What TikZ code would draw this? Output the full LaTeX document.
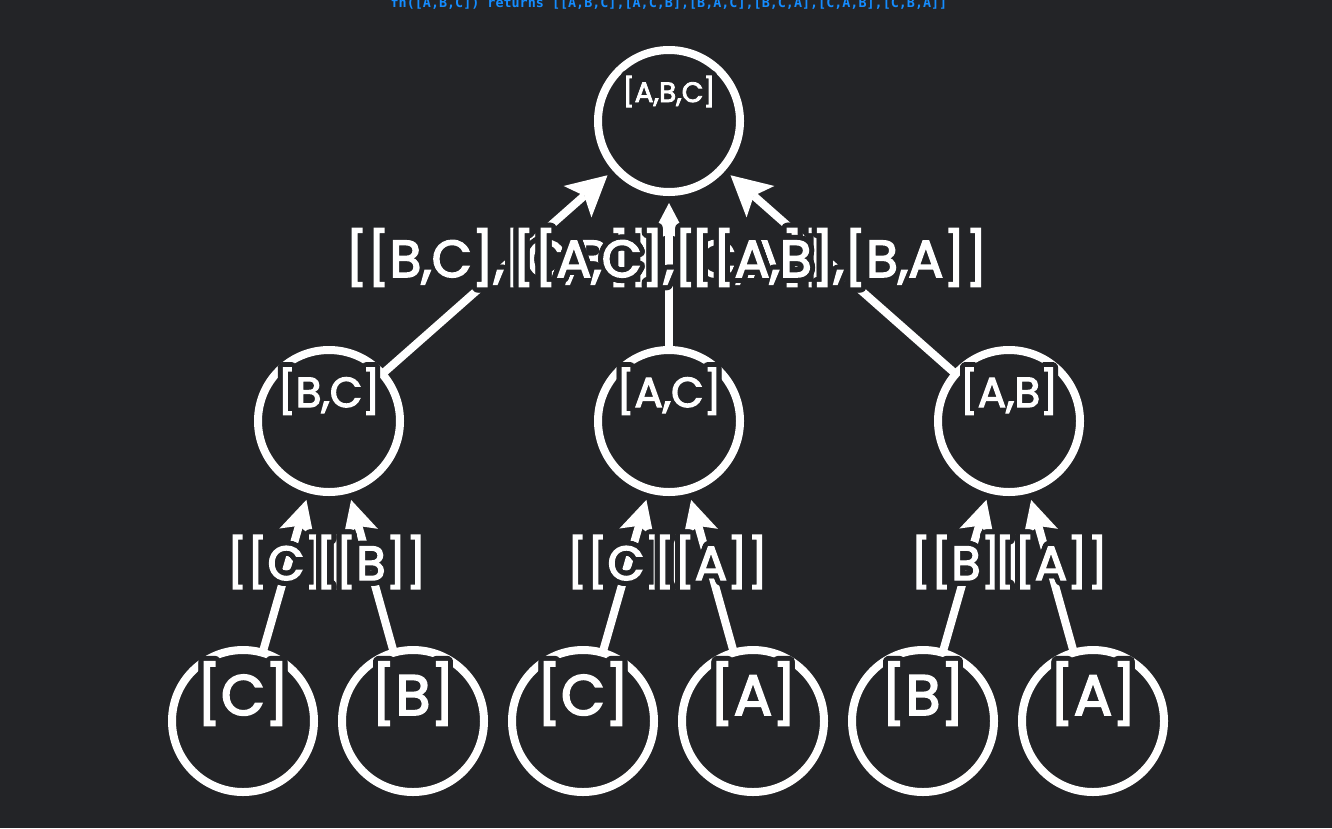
\documentclass[tikz,border=0pt]{standalone}
\usepackage{fontspec}
\usepackage{contour}
\usetikzlibrary{arrows.meta,calc}
\newfontfamily\popfont{Poppins}[FakeBold=3]
\newfontfamily\titlefont{DejaVu Sans Mono}
\definecolor{bg}{RGB}{35,36,39}
\definecolor{titleblue}{RGB}{20,140,255}
\contourlength{5pt}
\contournumber{32}
\begin{document}
\begin{tikzpicture}[x=1pt,y=-1pt,
  circ/.style={circle, draw=white, line width=8pt, minimum size=142pt, inner sep=0pt},
  edgeA/.style={draw=white, line width=8pt, -{Stealth[length=40pt,width=42pt,inset=9pt,line width=0pt]}, shorten >=7pt, shorten <=-6pt},
  edgeB/.style={draw=white, line width=8pt, -{Stealth[length=35pt,width=36pt,inset=8pt,line width=0pt]}, shorten >=7pt, shorten <=-6pt},
  txt/.style={text=white, anchor=base, inner sep=0pt, outer sep=0pt},
  rootfont/.style={font=\popfont\fontsize{28}{30}\selectfont},
  midfont/.style={font=\popfont\fontsize{42}{46}\selectfont},
  leaffont/.style={font=\popfont\fontsize{57}{60}\selectfont},
  lblA/.style={font=\popfont\fontsize{52}{54}\selectfont},
  lblB/.style={font=\popfont\fontsize{48}{50}\selectfont},
]
\fill[bg] (0,0) rectangle (1332,828);
\useasboundingbox (0,0) rectangle (1332,828);

\node[txt, anchor=base, text=titleblue, font=\titlefont\bfseries\fontsize{13.4}{14}\selectfont] (title) at (669,7) {fn([A,B,C]) returns [[A,B,C],[A,C,B],[B,A,C],[B,C,A],[C,A,B],[C,B,A]]};

% circles
\node[circ] (r) at (669,121) {};
\node[circ] (m1) at (329,421) {};
\node[circ] (m2) at (669,421) {};
\node[circ] (m3) at (1009,421) {};
\node[circ] (l1) at (243,721) {};
\node[circ] (l2) at (413,721) {};
\node[circ] (l3) at (583,721) {};
\node[circ] (l4) at (753,721) {};
\node[circ] (l5) at (923,721) {};
\node[circ] (l6) at (1093,721) {};

% edges
\draw[edgeA] (m1) -- (r);
\draw[edgeA] (m2) -- (r);
\draw[edgeA] (m3) -- (r);
\draw[edgeB] (l1) -- (m1);
\draw[edgeB] (l2) -- (m1);
\draw[edgeB] (l3) -- (m2);
\draw[edgeB] (l4) -- (m2);
\draw[edgeB] (l5) -- (m3);
\draw[edgeB] (l6) -- (m3);

% node texts
\node[txt, rootfont] (tr) at ($(r)+(0,-19)$) {\contour{bg}{[A,B,C]}};
\node[txt, midfont] (tm1) at ($(m1)+(0,-14)$) {\contour{bg}{[B,C]}};
\node[txt, midfont] (tm2) at ($(m2)+(0,-14)$) {\contour{bg}{[A,C]}};
\node[txt, midfont] (tm3) at ($(m3)+(0,-14)$) {\contour{bg}{[A,B]}};
\node[txt, leaffont] (tl1) at ($(l1)+(0,-6)$) {\contour{bg}{[C]}};
\node[txt, leaffont] (tl2) at ($(l2)+(0,-6)$) {\contour{bg}{[B]}};
\node[txt, leaffont] (tl3) at ($(l3)+(0,-6)$) {\contour{bg}{[C]}};
\node[txt, leaffont] (tl4) at ($(l4)+(0,-6)$) {\contour{bg}{[A]}};
\node[txt, leaffont] (tl5) at ($(l5)+(0,-6)$) {\contour{bg}{[B]}};
\node[txt, leaffont] (tl6) at ($(l6)+(0,-6)$) {\contour{bg}{[A]}};

% edge labels, level 1
\node[txt, lblA] (e1) at ($($(m1)!0.5!(r)$)+(0,6)$) {\contour{bg}{[[B,C],[C,B]]}};
\node[txt, lblA] (e2) at ($($(m2)!0.5!(r)$)+(0,6)$) {\contour{bg}{[[A,C],[C,A]]}};
\node[txt, lblA] (e3) at ($($(m3)!0.5!(r)$)+(0,6)$) {\contour{bg}{[[A,B],[B,A]]}};

% edge labels, level 2
\node[txt, lblB] (f1) at ($($(l1)!0.5!(m1)$)+(0,9)$) {\contour{bg}{[[C]]}};
\node[txt, lblB] (f2) at ($($(l2)!0.5!(m1)$)+(0,9)$) {\contour{bg}{[[B]]}};
\node[txt, lblB] (f3) at ($($(l3)!0.5!(m2)$)+(0,9)$) {\contour{bg}{[[C]]}};
\node[txt, lblB] (f4) at ($($(l4)!0.5!(m2)$)+(0,9)$) {\contour{bg}{[[A]]}};
\node[txt, lblB] (f5) at ($($(l5)!0.5!(m3)$)+(0,9)$) {\contour{bg}{[[B]]}};
\node[txt, lblB] (f6) at ($($(l6)!0.5!(m3)$)+(0,9)$) {\contour{bg}{[[A]]}};
\end{tikzpicture}
\end{document}
